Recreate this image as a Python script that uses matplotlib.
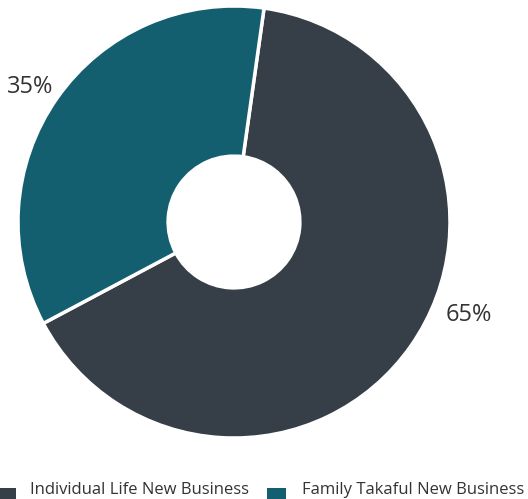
import matplotlib
matplotlib.use("Agg")
import matplotlib.pyplot as plt
from matplotlib.patches import Rectangle

labels = ["Individual Life New Business", "Family Takaful New Business"]
shares = [65, 35]
colors = ["#363f48", "#145f6f"]

W, H = 528, 499
plt.rcParams['font.family'] = ['Open Sans', 'DejaVu Sans']

fig = plt.figure(figsize=(W / 100, H / 100), dpi=100)
# donut centred at (234, 222) px, radius 216 px
cx, cy, r = 234, 222, 216
ax = fig.add_axes([(cx - r) / W, (H - cy - r) / H, 2 * r / W, 2 * r / H])

ax.pie(shares, colors=colors, startangle=82, counterclock=False,
       radius=1.0,
       wedgeprops=dict(width=0.695, edgecolor="white", linewidth=2.5))
ax.set_xlim(-1, 1)
ax.set_ylim(-1, 1)
ax.set_aspect("equal")
ax.axis("off")

txt = "#333333"
# percentage labels
fig.text(53 / W, (H - 93) / H, f"{shares[1]}%", ha="right", va="baseline",
         fontsize=17, color=txt)
fig.text(446 / W, (H - 321) / H, f"{shares[0]}%", ha="left", va="baseline",
         fontsize=17, color=txt)

# legend along the bottom edge
for x0, tx, lab, col in [(-3, 30, labels[0], colors[0]),
                         (267, 302, labels[1], colors[1])]:
    fig.add_artist(Rectangle((x0 / W, (H - 507) / H), 19 / W, 19 / H,
                             transform=fig.transFigure, color=col, lw=0))
    fig.text(tx / W, (H - 494) / H, lab, ha="left", va="baseline",
             fontsize=12, color=txt)

fig.savefig("out.png", dpi=100)
